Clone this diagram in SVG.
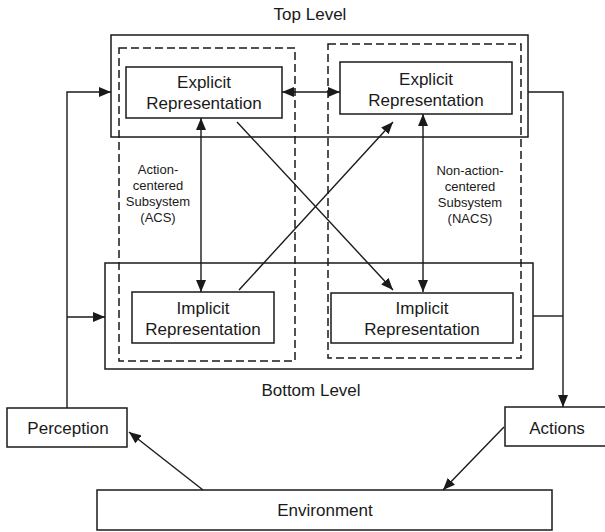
<svg xmlns="http://www.w3.org/2000/svg" width="605" height="532" viewBox="0 0 605 532">
  <style>
    .box { fill: #fff; stroke: #1a1a1a; stroke-width: 1.5; }
    .frame { fill: none; stroke: #1a1a1a; stroke-width: 1.5; }
    .dash { fill: none; stroke: #1a1a1a; stroke-width: 1.5; stroke-dasharray: 8 4; }
    .link { fill: none; stroke: #1a1a1a; stroke-width: 1.4; }
    .lbl { font-family: "Liberation Sans", Arial, sans-serif; font-size: 17px; fill: #1a1a1a; text-anchor: middle; }
    .sub { font-family: "Liberation Sans", Arial, sans-serif; font-size: 13px; fill: #1a1a1a; text-anchor: middle; }
  </style>
  <defs>
    <marker id="arrow" viewBox="0 0 12 10" refX="12" refY="5" markerWidth="12" markerHeight="10" markerUnits="userSpaceOnUse" orient="auto-start-reverse">
      <path d="M0,0 L12,5 L0,10 Z" fill="#1a1a1a"/>
    </marker>
  </defs>
  <rect width="605" height="532" fill="#fff"/>

  <!-- level frames -->
  <g id="top-level">
    <rect class="frame" x="111" y="35" width="417" height="102"/>
    <text class="lbl" x="310" y="20">Top Level</text>
  </g>
  <g id="bottom-level">
    <rect class="frame" x="105" y="263" width="428" height="106"/>
    <text class="lbl" x="311" y="396">Bottom Level</text>
  </g>

  <!-- subsystems -->
  <g id="acs">
    <rect class="dash" x="119" y="48" width="176" height="313"/>
    <text class="sub" x="158" y="174">Action-</text>
    <text class="sub" x="158" y="190">centered</text>
    <text class="sub" x="158" y="206">Subsystem</text>
    <text class="sub" x="158" y="222">(ACS)</text>
  </g>
  <g id="nacs">
    <rect class="dash" x="328" y="44" width="193" height="314"/>
    <text class="sub" x="470" y="175">Non-action-</text>
    <text class="sub" x="470" y="191">centered</text>
    <text class="sub" x="470" y="207">Subsystem</text>
    <text class="sub" x="470" y="223">(NACS)</text>
  </g>

  <!-- representations -->
  <g id="acs-explicit">
    <rect class="box" x="126" y="67" width="156" height="51"/>
    <text class="lbl" x="204" y="88">Explicit</text>
    <text class="lbl" x="204" y="109">Representation</text>
  </g>
  <g id="nacs-explicit">
    <rect class="box" x="340" y="62" width="172" height="52"/>
    <text class="lbl" x="426" y="85">Explicit</text>
    <text class="lbl" x="426" y="106">Representation</text>
  </g>
  <g id="acs-implicit">
    <rect class="box" x="132" y="292" width="142" height="51"/>
    <text class="lbl" x="203" y="314">Implicit</text>
    <text class="lbl" x="203" y="335">Representation</text>
  </g>
  <g id="nacs-implicit">
    <rect class="box" x="331" y="293" width="182" height="50"/>
    <text class="lbl" x="422" y="314">Implicit</text>
    <text class="lbl" x="422" y="335">Representation</text>
  </g>

  <!-- environment loop -->
  <g id="perception">
    <rect class="box" x="7" y="408" width="120" height="39"/>
    <text class="lbl" x="68" y="434">Perception</text>
  </g>
  <g id="actions">
    <rect class="box" x="505" y="407" width="102" height="39"/>
    <text class="lbl" x="557" y="434">Actions</text>
  </g>
  <g id="environment">
    <rect class="box" x="97" y="490" width="455" height="40"/>
    <text class="lbl" x="325" y="516">Environment</text>
  </g>

  <!-- connectors -->
  <g id="connectors">
    <path class="link" d="M67,408 V92 H111" marker-end="url(#arrow)"/>
    <path class="link" d="M67,317 H105" marker-end="url(#arrow)"/>
    <path class="link" d="M528,92 H563 V407" marker-end="url(#arrow)"/>
    <path class="link" d="M533,316 H563"/>
    <path class="link" d="M282,92 H340" marker-start="url(#arrow)" marker-end="url(#arrow)"/>
    <path class="link" d="M201,118 V292" marker-start="url(#arrow)" marker-end="url(#arrow)"/>
    <path class="link" d="M423,114 V292" marker-start="url(#arrow)" marker-end="url(#arrow)"/>
    <path class="link" d="M237,122 L393,290" marker-end="url(#arrow)"/>
    <path class="link" d="M239,290 L393,122" marker-end="url(#arrow)"/>
    <path class="link" d="M203,490 L129,432" marker-end="url(#arrow)"/>
    <path class="link" d="M504,427 L443,490" marker-end="url(#arrow)"/>
  </g>
</svg>
